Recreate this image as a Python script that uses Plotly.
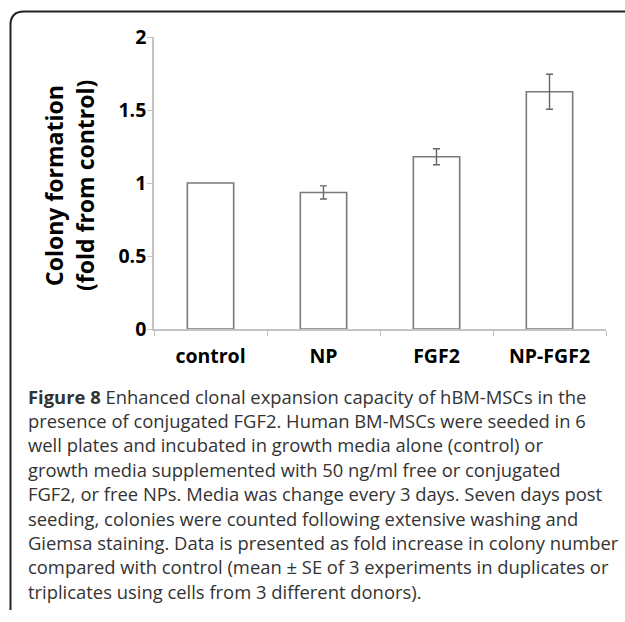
import plotly.graph_objects as go

# Colony formation relative to control (mean ± SE)
categories = ["control", "NP", "FGF2", "NP-FGF2"]
fold_change = [1.0, 0.935, 1.18, 1.625]
std_error = [None, 0.045, 0.055, 0.12]
y_ticks = [0, 0.5, 1, 1.5, 2]
y_tick_labels = ["0", "0.5", "1", "1.5", "2"]

caption_lines = [
    "<b>Figure 8</b> Enhanced clonal expansion capacity of hBM-MSCs in the",
    "presence of conjugated FGF2. Human BM-MSCs were seeded in 6",
    "well plates and incubated in growth media alone (control) or",
    "growth media supplemented with 50 ng/ml free or conjugated",
    "FGF2, or free NPs. Media was change every 3 days. Seven days post",
    "seeding, colonies were counted following extensive washing and",
    "Giemsa staining. Data is presented as fold increase in colony number",
    "compared with control (mean ± SE of 3 experiments in duplicates or",
    "triplicates using cells from 3 different donors).",
]

W, H = 625, 622
# plot-area edges in pixels
left, right, top, bottom = 154, 606, 37, 329

fig = go.Figure()
fig.add_trace(go.Bar(
    x=categories,
    y=fold_change,
    width=0.41,
    marker=dict(color="white", line=dict(color="#7a7a7a", width=1.6)),
    showlegend=False,
))

# error bars only where an SE exists (control is the reference, no SE)
err_idx = [i for i, e in enumerate(std_error) if e is not None]
fig.add_trace(go.Scatter(
    x=[categories[i] for i in err_idx],
    y=[fold_change[i] for i in err_idx],
    mode="markers",
    marker=dict(size=1, opacity=0),
    error_y=dict(type="data", array=[std_error[i] for i in err_idx],
                 visible=True, color="#666666", thickness=1.4, width=3.5),
    showlegend=False, hoverinfo="skip",
))

axis_font = dict(family="Open Sans", size=19.5, color="black", weight="bold")

fig.update_layout(
    template="none",
    width=W, height=H,
    margin=dict(l=0, r=0, t=0, b=0, pad=0, autoexpand=False),
    paper_bgcolor="white",
    plot_bgcolor="rgba(0,0,0,0)",
    xaxis=dict(
        domain=[left / W, right / W],
        anchor="y", automargin=False,
        showline=True, linecolor="#c4c4c4", linewidth=1.6,
        ticks="outside", tickson="boundaries", ticklen=5,
        tickcolor="#c4c4c4", tickwidth=1.4,
        tickfont=axis_font, ticklabelstandoff=9,
        showgrid=False, zeroline=False,
    ),
    yaxis=dict(
        domain=[1 - bottom / H, 1 - top / H],
        anchor="x", automargin=False,
        range=[0, 2],
        tickvals=y_ticks, ticktext=y_tick_labels,
        showline=True, linecolor="#c4c4c4", linewidth=1.6,
        ticks="outside", ticklen=5, tickcolor="#c4c4c4", tickwidth=1.4,
        tickfont=axis_font, ticklabelstandoff=-3,
        showgrid=False, zeroline=False,
    ),
    # pixel-space overlay used for the frame and text
    xaxis2=dict(domain=[0, 1], range=[0, W], anchor="y2", visible=False,
                automargin=False),
    yaxis2=dict(domain=[0, 1], range=[H, 0], anchor="x2", visible=False,
                automargin=False),
)

# rounded panel frame (top-left corner)
fig.add_shape(
    type="path", xref="x2", yref="y2",
    path="M 10.5 610 L 10.5 25 Q 10.5 11.5 24 11.5 L 625 11.5",
    line=dict(color="#222222", width=2),
)

# y-axis title
title_font = dict(family="Open Sans", size=23, color="black", weight="bold")
fig.add_annotation(xref="x2", yref="y2", x=54, y=186, text="Colony formation",
                   textangle=-90, showarrow=False, font=title_font)
fig.add_annotation(xref="x2", yref="y2", x=85, y=186, text="(fold from control)",
                   textangle=-90, showarrow=False, font=title_font)

# caption
cap_font = dict(family="Open Sans", size=18.4, color="#333333")
for i, line in enumerate(caption_lines):
    fig.add_annotation(xref="x2", yref="y2", x=26, y=396 + i * 24.4, text=line,
                       xanchor="left", yanchor="middle", showarrow=False,
                       font=cap_font)

fig.write_html("out.html")
